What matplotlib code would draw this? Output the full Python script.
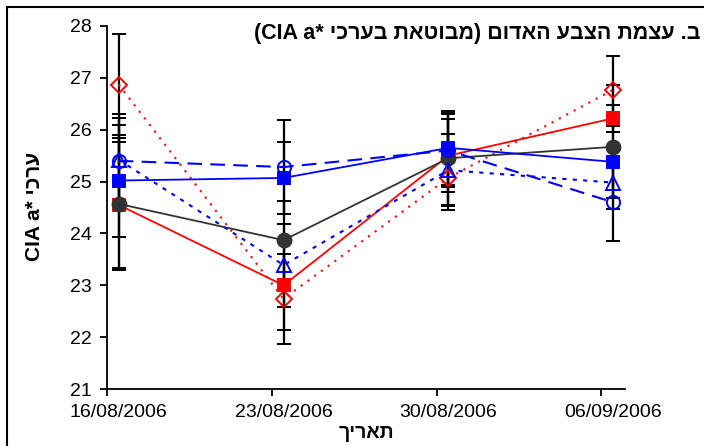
# -*- coding: utf-8 -*-
# CIA a* red colour intensity over four sampling dates
import datetime as dt

import matplotlib
matplotlib.use('Agg')
import matplotlib.pyplot as plt
import matplotlib.dates as mdates
from matplotlib.patches import Rectangle

plt.rcParams['font.family'] = ['Liberation Sans', 'DejaVu Sans']

# sampling dates (points sit at midday)
dates = ['16/08/2006', '23/08/2006', '30/08/2006', '06/09/2006']

# series values and errors
red_sq = [24.55, 23.00, 25.50, 26.22]
red_sq_err = [1.22, 0.87, 0.70, 0.26]
red_dm = [26.87, 22.74, 25.07, 26.77]
red_dm_err = [0.97, 0.87, 0.62, 0.65]
gray_ci = [24.57, 23.87, 25.45, 25.67]
gray_ci_err = [1.27, 0.76, 0.90, 1.20]
blue_sq = [25.02, 25.07, 25.65, 25.38]
blue_sq_err = [1.08, 0.70, 0.72, 0.70]
blue_ci = [25.40, 25.28, 25.60, 24.60]
blue_ci_err = [0.82, 0.90, 0.70, 0.74]
blue_tr = [25.42, 23.39, 25.22, 24.98]
blue_tr_err = [0.88, 0.80, 0.70, 0.30]

# hebrew strings written in visual order (matplotlib has no bidi)
title_txt = '(CIA a* ' + 'בערכי'[::-1] + ' ' + 'מבוטאת'[::-1] + ') ' + \
    'האדום'[::-1] + ' ' + 'הצבע'[::-1] + ' ' + 'עצמת'[::-1] + ' .ב'
ylabel_txt = 'CIA a* ' + 'ערכי'[::-1]
xlabel_txt = 'תאריך'[::-1]

tick_dates = [dt.datetime.strptime(d, '%d/%m/%Y') for d in dates]
x = [d + dt.timedelta(hours=12) for d in tick_dates]

W, H = 704, 446
fig = plt.figure(figsize=(W / 100, H / 100), dpi=100)
ax = fig.add_axes([107 / W, 1 - 389 / H, (625 - 107) / W, (389 - 26) / H])

series = [
    (red_sq, red_sq_err, '#FF0000', '-', 's', True, 9),
    (red_dm, red_dm_err, '#FF0000', (0, (1, 3)), 'D', False, 8.5),
    (gray_ci, gray_ci_err, '#333333', '-', 'o', True, 10),
    (blue_sq, blue_sq_err, '#0000FF', '-', 's', True, 9),
    (blue_ci, blue_ci_err, '#0000FF', (0, (7, 4)), 'o', False, 9.5),
    (blue_tr, blue_tr_err, '#0000FF', (0, (2, 3)), '^', False, 9.5),
]

# error bars first, black, under the markers
for vals, errs, col, ls, mk, filled, ms in series:
    ax.errorbar(x, vals, yerr=errs, fmt='none', ecolor='black',
                elinewidth=1.6, capsize=5, capthick=1.4, zorder=2)

for vals, errs, col, ls, mk, filled, ms in series:
    lw = 1.5 if ls != '-' else 1.3
    ax.plot(x, vals, color=col, linestyle=ls, linewidth=lw, zorder=3)
    ax.plot(x, vals, linestyle='none', marker=mk, markersize=ms,
            markerfacecolor=col if filled else 'none',
            markeredgecolor=col, markeredgewidth=1.4, zorder=4)

ax.set_ylim(21, 28)
ax.set_yticks(range(21, 29))
ax.set_xlim(tick_dates[0], dt.datetime(2006, 9, 7))
# tick marks on the dates, labels centred on the points (midday)
ax.set_xticks(tick_dates)
ax.set_xticklabels([])
ax.set_xticks(x, minor=True)
ax.xaxis.set_minor_formatter(mdates.DateFormatter('%d/%m/%Y'))
ax.tick_params(axis='x', which='minor', length=0, labelsize=14, pad=11)

ax.spines['top'].set_visible(False)
ax.spines['right'].set_visible(False)
ax.spines['left'].set_linewidth(1.3)
ax.spines['bottom'].set_linewidth(1.3)
ax.tick_params(which='major', direction='out', length=5, width=1.3,
               labelsize=14, pad=6)

# titles and labels
fig.text(700 / W, 1 - 33 / H, title_txt, ha='right', va='center',
         fontsize=15.5, fontweight='bold')
fig.text(34 / W, 1 - 206 / H, ylabel_txt, ha='center', va='center',
         rotation=90, fontsize=15, fontweight='bold')
fig.text(366 / W, 1 - 434 / H, xlabel_txt, ha='center', va='center',
         fontsize=14, fontweight='bold')

# outer frame, cut off on the right and bottom like the source
fig.patches.append(Rectangle((7 / W, -0.1), 1.2, 1 - 7 / H + 0.1,
                             transform=fig.transFigure, fill=False,
                             edgecolor='black', linewidth=1.5))

fig.savefig('out.png', dpi=100)
